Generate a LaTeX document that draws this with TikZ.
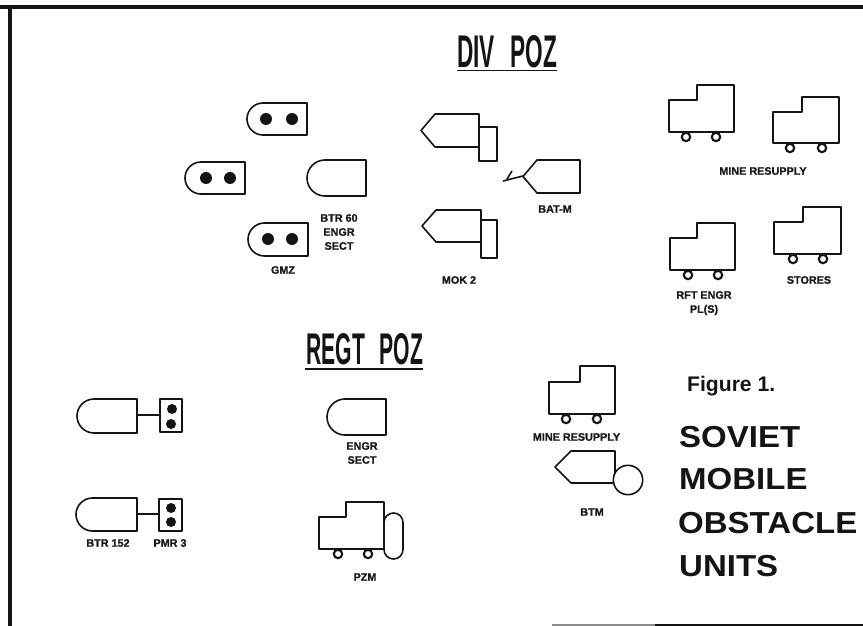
\documentclass[tikz,border=0pt]{standalone}
\usepackage{fontspec}
\setmainfont{Liberation Sans}
\newfontfamily\labfont[BoldFont={Liberation Sans Bold},BoldFeatures={FakeBold=1.2}]{Liberation Sans}
\tikzset{
  veh/.style={draw=black!92,line width=1.6pt,fill=white,line join=round},
  wheelmark/.style={draw=black!92,line width=2.1pt,fill=white},
  dotmark/.style={fill=black!92,draw=none},
  frameline/.style={draw=black!92,line width=4pt},
  lab/.style={font=\labfont\fontsize{10.8}{12}\selectfont\bfseries,text=black!90,inner sep=0pt,anchor=center},
  heading/.style={font=\fontsize{33}{36}\selectfont\bfseries,text=black!92,inner sep=0pt,anchor=base west},
  titletext/.style={text=black!92,inner sep=0pt,anchor=north west,font=\bfseries},
  underl/.style={draw=black!92,line width=1.8pt}
}
\newcommand{\apcshape}[4]{%
  \pgfmathsetmacro\rr{(#4-#3)/2}%
  \draw[veh] (#2,#3) -- ({#1+\rr},#3)
    .. controls ({#1+.45*\rr},#3) and (#1,{#3+.45*\rr}) .. (#1,{#3+\rr})
    .. controls (#1,{#3+1.55*\rr}) and ({#1+.45*\rr},#4) .. ({#1+\rr},#4)
    -- (#2,#4) -- cycle;}
\newcommand{\truckshape}[8]{%
  \draw[wheelmark] (#7,{#6+5}) circle[radius=4.2pt];
  \draw[wheelmark] (#8,{#6+5}) circle[radius=4.2pt];
  \draw[veh] (#1,#5) -- (#4,#5) -- (#4,#3) -- (#2,#3) -- (#2,#6) -- (#1,#6) -- cycle;}
\newcommand{\arrowshape}[5]{% tip x, shoulder x, right x, top y, bottom y
  \draw[veh] (#3,#4) -- (#2,#4) -- (#1,{(#4+#5)/2}) -- (#2,#5) -- (#3,#5) -- cycle;}
\newcommand{\headtext}[1]{\scalebox{1}[0.92]{#1}}
\begin{document}
\begin{tikzpicture}[x=1pt,y=-1pt]
\useasboundingbox (0,0) rectangle (863,626);
% frame
\draw[frameline] (0,7) -- (863,7);
\draw[frameline] (10,5) -- (10,626);
\draw[draw=black!45,line width=1.5pt] (552,625) -- (655,625);
\draw[draw=black!92,line width=2pt] (655,625) -- (863,625);
% titles
\node[titletext] (divpoz) at (457,35) {\resizebox{100pt}{32pt}{DIV\hspace{.7em}POZ}};
\draw[underl] (457,70.5) -- (557,70.5);
\node[titletext] (regtpoz) at (306,333) {\resizebox{117pt}{31pt}{REGT\hspace{.7em}POZ}};
\draw[underl] (305,369) -- (423,369);
% GMZ group
\apcshape{247}{307}{103}{135}
\fill[dotmark] (266,119) circle[radius=6pt] (292,119) circle[radius=6pt];
\apcshape{185}{245}{162}{194}
\fill[dotmark] (206,178) circle[radius=6pt] (230,178) circle[radius=6pt];
\apcshape{307}{366}{160}{196}
\apcshape{248}{308}{223}{256}
\fill[dotmark] (268,239) circle[radius=6pt] (292,239) circle[radius=6pt];
\node[lab] (btrsixty) at (339,218) {BTR 60};
\node[lab] (engrone) at (339,232) {ENGR};
\node[lab] (sectone) at (339,246) {SECT};
\node[lab] (gmz) at (283,270) {GMZ};
% MOK 2
\arrowshape{421}{435}{479}{114}{147}
\draw[veh] (479,127) rectangle (497,161);
\arrowshape{422}{436}{481}{210}{242}
\draw[veh] (481,220) rectangle (497,258);
\node[lab] (mok) at (459,280) {MOK 2};
% BAT-M
\arrowshape{523}{537}{580}{160}{193}
\coordinate (batneck) at (523,176);
\coordinate (batend) at (503,181);
\coordinate (battick) at (512,171);
\coordinate (batfoot) at (507,179);
\draw[veh] (batneck) -- (batend);
\draw[veh] (battick) -- (batfoot);
\node[lab] (batm) at (555,209) {BAT-M};
% div trucks
\truckshape{669}{734}{85}{697}{100}{132}{686}{716}
\truckshape{773}{839}{97}{802}{112}{143}{790}{822}
\node[lab] (mineone) at (763,171) {MINE RESUPPLY};
\truckshape{670}{735}{223}{697}{238}{270}{688}{718}
\truckshape{774}{841}{207}{803}{222}{254}{793}{823}
\node[lab] (rft) at (704,295) {RFT ENGR};
\node[lab] (pls) at (704,310) {PL(S)};
\node[lab] (stores) at (809,280) {STORES};
% regt left
\coordinate (apcaend) at (137,415);
\coordinate (pmraend) at (160,415);
\draw[veh] (apcaend) -- (pmraend);
\apcshape{77}{137}{399}{433}
\draw[veh] (160,399) rectangle (182,432);
\fill[dotmark] (172,409) circle[radius=5pt] (171,424) circle[radius=5pt];
\coordinate (apcbend) at (137,514);
\coordinate (pmrbend) at (159,514);
\draw[veh] (apcbend) -- (pmrbend);
\apcshape{76}{137}{498}{531}
\draw[veh] (159,499) rectangle (182,531);
\fill[dotmark] (171,508) circle[radius=5pt] (171,522) circle[radius=5pt];
\node[lab] (btrone) at (108,543) {BTR 152};
\node[lab] (pmr) at (170,543) {PMR 3};
% regt middle
\apcshape{327}{386}{399}{435}
\node[lab] (engrtwo) at (362,446) {ENGR};
\node[lab] (secttwo) at (362,460) {SECT};
\draw[veh,rounded corners=9.4pt] (384,513) rectangle (403,559);
\truckshape{319}{384}{502}{346}{517}{549}{338}{368}
\node[lab] (pzm) at (365,577) {PZM};
% regt right
\truckshape{549}{615}{366}{580}{382}{414}{566}{597}
\node[lab] (minetwo) at (576.5,437) {MINE RESUPPLY};
\arrowshape{555}{571}{615}{451}{483}
\draw[veh] (628,480) circle[radius=14.7pt];
\node[lab] (btm) at (592,512) {BTM};
% caption
\node[heading,font=\fontsize{20}{24}\selectfont\bfseries] (figone) at (687,391) {\resizebox{88pt}{!}{Figure 1.}};
\node[heading] (soviet) at (679,447) {\headtext{SOVIET}};
\node[heading] (mobile) at (679,489) {\headtext{MOBILE}};
\node[heading] (obstacle) at (678,533) {\headtext{OBSTACLE}};
\node[heading] (units) at (679,576) {\headtext{UNITS}};
\end{tikzpicture}
\end{document}
